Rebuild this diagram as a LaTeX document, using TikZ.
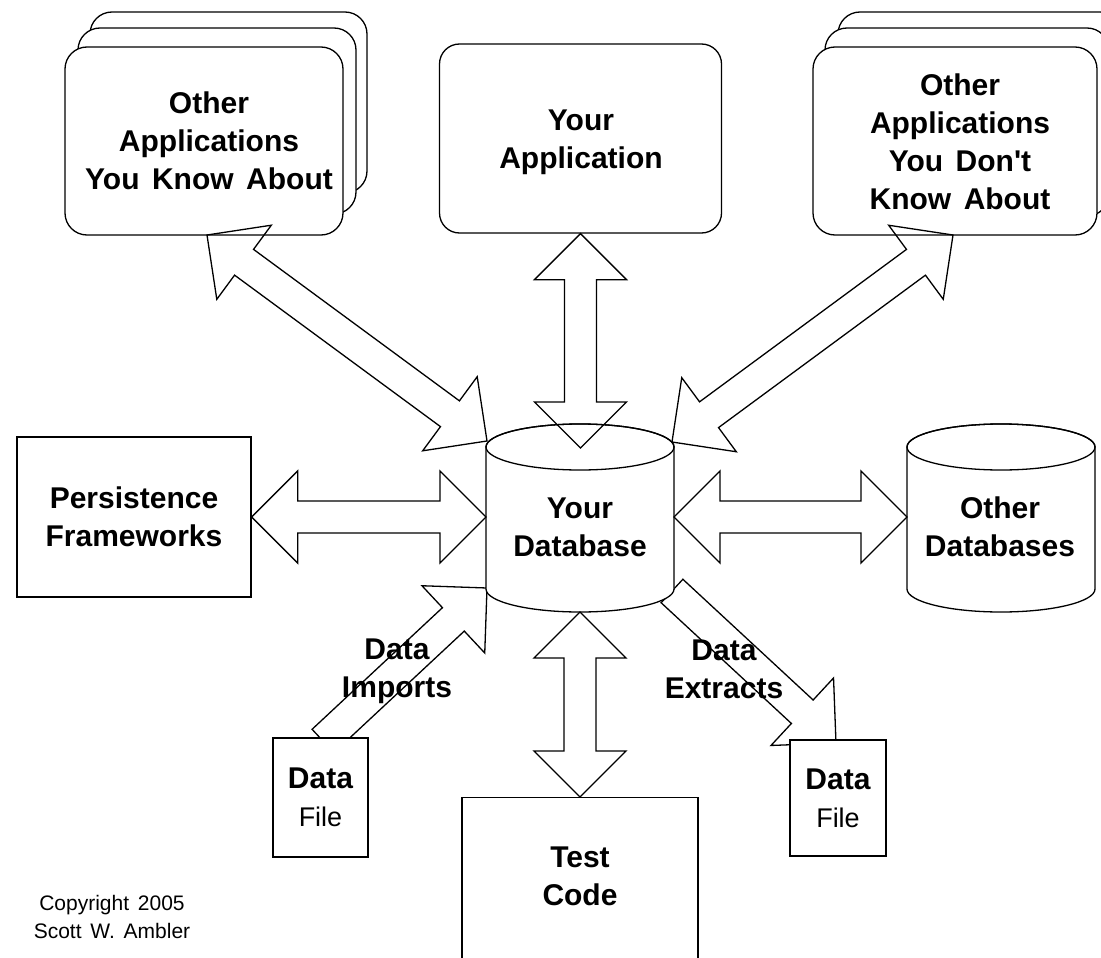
\documentclass[tikz,border=0pt]{standalone}
\usepackage{fontspec}
\setmainfont{Liberation Sans}[WordSpace=1.5]
\usetikzlibrary{calc}

% block arrow geometry
\newcommand\arrHeadLen{46pt}
\newcommand\arrHeadHalf{46pt}
\newcommand\arrShaftHalf{16pt}

% lighter face for the "File" line
\newcommand\filetextfont{\fontsize{27}{38}\selectfont\mdseries}

% double-headed block arrow between two named points
\newcommand\twowayarrow[3][]{%
  \draw[blockarrow,#1] (#2)
    -- ($(#2)!\arrHeadLen!(#3)!\arrHeadHalf!90:(#3)$)
    -- ($(#2)!\arrHeadLen!(#3)!\arrShaftHalf!90:(#3)$)
    -- ($(#3)!\arrHeadLen!(#2)!\arrShaftHalf!-90:(#2)$)
    -- ($(#3)!\arrHeadLen!(#2)!\arrHeadHalf!-90:(#2)$)
    -- (#3)
    -- ($(#3)!\arrHeadLen!(#2)!\arrHeadHalf!90:(#2)$)
    -- ($(#3)!\arrHeadLen!(#2)!\arrShaftHalf!90:(#2)$)
    -- ($(#2)!\arrHeadLen!(#3)!\arrShaftHalf!-90:(#3)$)
    -- ($(#2)!\arrHeadLen!(#3)!\arrHeadHalf!-90:(#3)$)
    -- cycle;}

% single-headed block arrow: tail #2, tip #3
\newcommand\onewayarrow[3][]{%
  \draw[blockarrow,#1] (#3)
    -- ($(#3)!\arrHeadLen!(#2)!\arrHeadHalf!90:(#2)$)
    -- ($(#3)!\arrHeadLen!(#2)!\arrShaftHalf!90:(#2)$)
    -- ($(#2)!\arrShaftHalf!-90:(#3)$)
    -- ($(#2)!\arrShaftHalf!90:(#3)$)
    -- ($(#3)!\arrHeadLen!(#2)!\arrShaftHalf!-90:(#2)$)
    -- ($(#3)!\arrHeadLen!(#2)!\arrHeadHalf!-90:(#2)$)
    -- cycle;}

% upright cylinder: centre x, top y, bottom y, x radius, y radius
\newcommand\cylshape[5]{%
  \filldraw[ln, fill=white] ({#1-#4},#2) -- ({#1-#4},#3)
    arc[start angle=180, end angle=360, x radius=#4pt, y radius=#5pt]
    -- ({#1+#4},#2)
    arc[start angle=0, end angle=180, x radius=#4pt, y radius=#5pt] -- cycle;
  \draw[ln] (#1,#2) ellipse[x radius=#4pt, y radius=#5pt];}

\tikzset{
  ln/.style={draw=black, line width=1.3pt},
  blockarrow/.style={ln, line join=miter},
  boxtext/.style={font=\fontsize{30}{38}\selectfont\bfseries, align=center},
  plainbox/.style={ln, fill=white, rectangle, inner sep=0pt},
  roundbox/.style={plainbox, rounded corners=22pt},
}

\begin{document}
\begin{tikzpicture}[x=1pt, y=-1pt]
\useasboundingbox (0,0) rectangle (1101,958);

% arrows that run under the boxes they touch
\coordinate (imp-tail) at (323,741);
\coordinate (imp-tip) at (487,588);
\coordinate (ext-tail) at (672,591);
\coordinate (ext-tip) at (836,743);
\onewayarrow[fill=white]{imp-tail}{imp-tip}
\onewayarrow[fill=white]{ext-tail}{ext-tip}

% applications you know about (stack)
\node[roundbox, minimum width=277pt, minimum height=181pt] (known3) at (228.5,102.5) {};
\node[roundbox, minimum width=278pt, minimum height=186pt] (known2) at (217,121) {};
\node[roundbox, minimum width=278pt, minimum height=188pt] (known) at (204,141) {};
\node[boxtext] (knownlbl) at (209,141) {Other\\Applications\\You Know About};

% applications you don't know about (stack)
\node[roundbox, minimum width=284pt, minimum height=185pt] (unk3) at (980,104.5) {};
\node[roundbox, minimum width=284pt, minimum height=188pt] (unk2) at (967,122) {};
\node[roundbox, minimum width=284pt, minimum height=188pt] (unk) at (955,141) {};
\node[boxtext] (unklbl) at (960,142)
  {Other\\Applications\\You Don\textquotesingle t\\Know About};

% your application
\node[roundbox, rounded corners=20pt, minimum width=282pt, minimum height=189pt]
  (app) at (580.5,138.5) {};
\node[boxtext] (applbl) at (581,142) {Your\\Application};

% persistence frameworks
\node[plainbox, boxtext, minimum width=234pt, minimum height=160pt] (pf) at (134,517)
  {Persistence\\Frameworks};

% databases
\cylshape{580}{447}{589}{94}{23}
\node[boxtext] (db) at (580,527) {Your\\Database};
\cylshape{1001}{447}{589}{94}{23}
\node[boxtext] (odb) at (1000,527) {Other\\Databases};

% test code
\node[plainbox, minimum width=236pt, minimum height=200pt, anchor=north] (test) at (580,797) {};
\node[boxtext] (testlbl) at (580,876) {Test\\Code};

% data files
\node[plainbox, boxtext, minimum width=95pt, minimum height=119pt] (fileL) at (320.5,797.5)
  {Data\\{\filetextfont File}};
\node[plainbox, boxtext, minimum width=96pt, minimum height=116pt] (fileR) at (838,798)
  {Data\\{\filetextfont File}};

% connection points on the shapes
\coordinate (known-tip) at (207,235);
\coordinate (unk-tip) at (953,235);
\coordinate (db-nw) at (487,441);
\coordinate (db-top) at (580.5,448);
\coordinate (db-ne) at (672,442);
\coordinate (db-w) at (486,517);
\coordinate (db-e) at (674,517);
\coordinate (odb-w) at (907,517);
\coordinate (db-bot) at (580,612);

% two-way data flows
\twowayarrow{known-tip}{db-nw}
\twowayarrow{app.south}{db-top}
\twowayarrow{db-ne}{unk-tip}
\twowayarrow{pf.east}{db-w}
\twowayarrow{db-e}{odb-w}
\twowayarrow{db-bot}{test.north}

% flow labels
\node[boxtext] (implbl) at (397,671) {Data\\Imports};
\node[boxtext] (extlbl) at (724,669) {Data\\Extracts};

% copyright notice
\node[font=\fontsize{21}{28}\selectfont, align=center] (copy) at (112,917)
  {Copyright 2005\\Scott W. Ambler};
\end{tikzpicture}
\end{document}
